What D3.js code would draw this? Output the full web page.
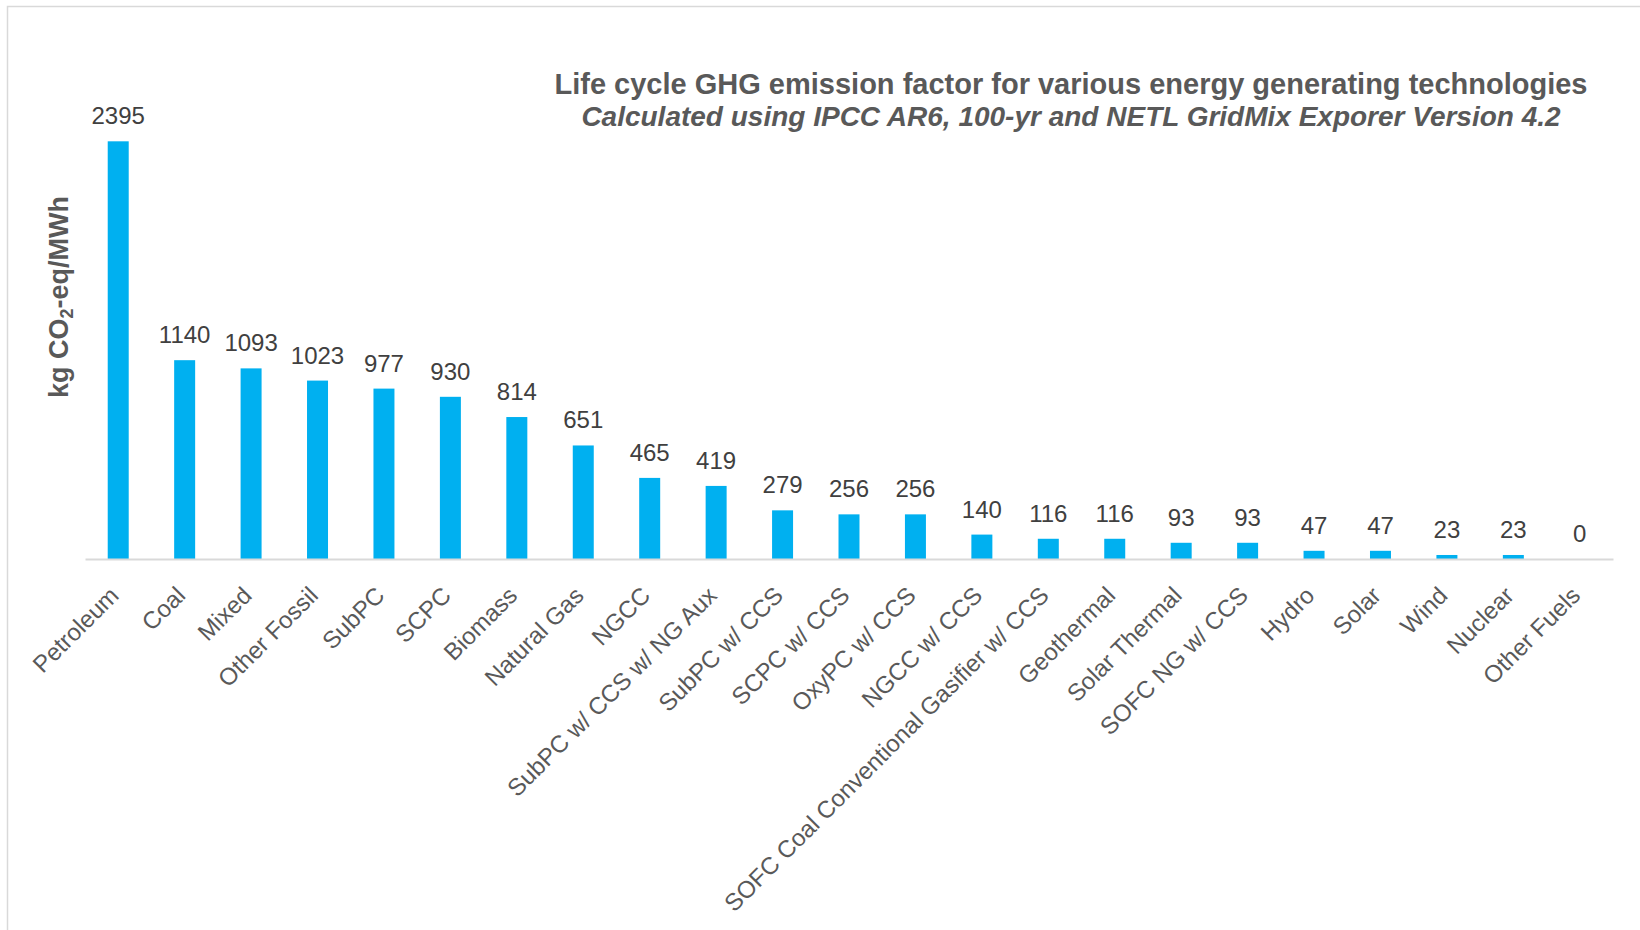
<!DOCTYPE html>
<html lang="en">

<head>
    <script src="https://cdnjs.cloudflare.com/ajax/libs/d3/7.8.5/d3.min.js"></script>
    <style>
        body { margin: 0; background: #fff; }
        text { font-family: "Liberation Sans", Arial, sans-serif; }
    </style>
</head>

<body>
    <script>
        var w = 1640;
        var h = 930;

        var categories = [
            "Petroleum", "Coal", "Mixed", "Other Fossil", "SubPC", "SCPC", "Biomass",
            "Natural Gas", "NGCC", "SubPC w/ CCS w/ NG Aux", "SubPC w/ CCS", "SCPC w/ CCS",
            "OxyPC w/ CCS", "NGCC w/ CCS", "SOFC Coal Conventional Gasifier w/ CCS",
            "Geothermal", "Solar Thermal", "SOFC NG w/ CCS", "Hydro", "Solar", "Wind",
            "Nuclear", "Other Fuels"
        ];
        var emissions = [2395, 1140, 1093, 1023, 977, 930, 814, 651, 465, 419, 279, 256,
            256, 140, 116, 116, 93, 93, 47, 47, 23, 23, 0];

        var title = "Life cycle GHG emission factor for various energy generating technologies";
        var subtitle = "Calculated using IPCC AR6, 100-yr and NETL GridMix Exporer Version 4.2";

        var data = categories.map((c, i) => ({ name: c, value: emissions[i] }));

        var svg = d3.select("body").append("svg")
            .attr("width", w)
            .attr("height", h);

        // chart frame
        svg.append("rect")
            .attr("x", 7.5)
            .attr("y", 6.5)
            .attr("width", w + 20)
            .attr("height", h + 20)
            .attr("fill", "none")
            .attr("stroke", "#d9d9d9")
            .attr("stroke-width", 1.5);

        var x = d3.scaleBand()
            .domain(categories)
            .range([85, 1613])
            .paddingInner(0.684)
            .paddingOuter(0.342);

        var y = d3.scaleLinear()
            .domain([0, 2500])
            .range([559, 123]);

        svg.selectAll("rect.bar")
            .data(data)
            .enter()
            .append("rect")
            .attr("class", "bar")
            .attr("x", d => x(d.name))
            .attr("width", x.bandwidth())
            .attr("y", d => y(d.value))
            .attr("height", d => y(0) - y(d.value))
            .attr("fill", "#00b0f0");

        // category axis
        var xAxis = svg.append("g")
            .attr("transform", "translate(0," + y(0) + ")")
            .call(d3.axisBottom(x).tickSize(0).tickPadding(0));

        xAxis.select(".domain").attr("stroke", "#d9d9d9").attr("stroke-width", 2);
        xAxis.selectAll(".tick text")
            .attr("font-size", "24px")
            .attr("fill", "#595959")
            .attr("text-anchor", "end")
            .attr("dy", 0)
            .attr("y", 0)
            .attr("transform", "translate(2,38) rotate(-45)");

        // value labels
        svg.selectAll("text.val")
            .data(data)
            .enter()
            .append("text")
            .attr("class", "val")
            .attr("x", d => x(d.name) + x.bandwidth() / 2)
            .attr("y", d => y(d.value) - 17)
            .attr("text-anchor", "middle")
            .attr("font-size", "24px")
            .attr("fill", "#404040")
            .text(d => d.value);

        // titles
        svg.append("text")
            .attr("x", 1071)
            .attr("y", 94)
            .attr("text-anchor", "middle")
            .attr("font-size", "29px")
            .attr("font-weight", "bold")
            .attr("fill", "#595959")
            .text(title);

        svg.append("text")
            .attr("x", 1071)
            .attr("y", 126)
            .attr("text-anchor", "middle")
            .attr("font-size", "28px")
            .attr("font-weight", "bold")
            .attr("font-style", "italic")
            .attr("fill", "#595959")
            .text(subtitle);

        // y axis title
        var yt = svg.append("text")
            .attr("transform", "translate(68,297) rotate(-90)")
            .attr("text-anchor", "middle")
            .attr("font-size", "27px")
            .attr("font-weight", "bold")
            .attr("fill", "#595959");
        yt.append("tspan").text("kg CO");
        yt.append("tspan").attr("font-size", "18px").attr("dy", 5).text("2");
        yt.append("tspan").attr("dy", -5).text("-eq/MWh");
    </script>
</body>

</html>
